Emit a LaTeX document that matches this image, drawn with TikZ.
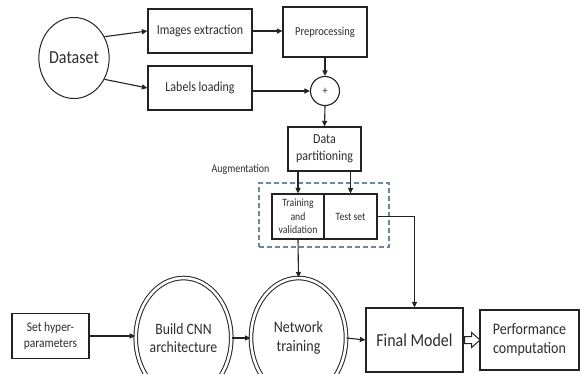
\documentclass[tikz,border=0pt]{standalone}
\usepackage{fontspec}
\setmainfont{Carlito}[FakeStretch=0.87]
\usetikzlibrary{shapes.geometric,arrows.meta}
\definecolor{ln}{RGB}{35,35,35}
\definecolor{tx}{RGB}{45,45,45}
\definecolor{dsh}{RGB}{105,135,165}
\newcommand{\fs}[1]{\fontsize{#1}{1.18\dimexpr#1pt\relax}\selectfont}
\tikzset{
  box/.style={draw=ln, line width=1.2pt, text=tx, align=center, inner sep=1pt},
  oval/.style={ellipse, draw=ln, line width=1pt, text=tx, align=center, inner sep=0pt},
  dbloval/.style={ellipse, draw=ln, double, double distance=2.6pt, line width=1pt, text=tx, align=center, inner sep=0pt},
  conn/.style={draw=ln, line width=1.1pt, -{Triangle[length=5.5pt,width=5pt]}},
  hollow/.style={draw=ln, line width=1pt, fill=white}
}
\begin{document}
\begin{tikzpicture}[x=1pt,y=-1pt]
\useasboundingbox (0,0) rectangle (580,373);
% top part
\node[oval, minimum width=68pt, minimum height=81pt, font=\fontsize{18.4}{21}\selectfont] (ds) at (74,58) {Dataset};
\node[box, minimum width=104pt, minimum height=44pt, font=\fontsize{13.8}{16}\selectfont] (ie) at (200,31) {Images extraction};
\node[box, minimum width=104pt, minimum height=44pt, font=\fontsize{13.8}{16}\selectfont] (ll) at (200,88) {Labels loading};
\node[box, minimum width=84pt, minimum height=50pt, font=\fontsize{12.1}{14}\selectfont] (pp) at (325,32) {Preprocessing};
\node[circle, draw=ln, line width=1.1pt, minimum size=29pt, inner sep=0pt, text=tx, font=\fontsize{11.5}{13}\selectfont] (plus) at (325,91) {+};
\node[box, minimum width=73pt, minimum height=44pt, font=\fontsize{13.8}{16.5}\selectfont] (dp) at (324.5,149) {Data\\partitioning};
% augmentation
\node[draw=dsh, dash pattern=on 5pt off 3pt, line width=1.1pt, minimum width=130pt, minimum height=64pt, inner sep=0pt] (aug) at (324,215) {};
\node[text=tx, font=\fontsize{11.5}{13}\selectfont] (augl) at (240.5,170) {Augmentation};
\node[box, minimum width=52pt, minimum height=45pt, font=\fontsize{11.2}{13.5}\selectfont] (tv) at (298,216.5) {Training\\and\\validation};
\node[box, minimum width=53pt, minimum height=45pt, font=\fontsize{11.2}{13}\selectfont] (ts) at (350.5,216.5) {Test set};
% bottom row
\node[box, minimum width=77pt, minimum height=45pt, font=\fontsize{13.2}{15.5}\selectfont] (hp) at (50.5,336) {Set hyper-\\parameters};
\node[dbloval, minimum width=93pt, minimum height=120pt, font=\fontsize{15.75}{18}\selectfont] (cnn) at (183.5,338) {Build CNN\\architecture};
\node[dbloval, minimum width=95pt, minimum height=120pt, font=\fontsize{16.1}{18.5}\selectfont] (nt) at (298.5,338) {Network\\training};
\node[box, minimum width=97pt, minimum height=64pt, font=\fontsize{18.3}{21}\selectfont] (fm) at (414.5,340) {Final Model};
\node[box, minimum width=99pt, minimum height=60pt, font=\fontsize{16.1}{19}\selectfont] (pc) at (529.5,340) {Performance\\computation};
% hollow block arrow Final Model -> Performance computation
\draw[hollow] (fm.east) ++(1,-3.5) -- ++(7,0) -- ++(0,-4) -- ++(8.5,7.5) -- ++(-8.5,7.5) -- ++(0,-4) -- ++(-7,0) -- cycle;
% connectors
\draw[conn] (ds.35) -- (ie.west);
\draw[conn] (ds.-35) -- (ll.west);
\draw[conn] (ie.east) -- (ie.east -| pp.west);
\draw[conn] (ll.east |- plus) -- (plus.west);
\draw[conn] (pp.south) -- (plus.north);
\draw[conn] (plus.south) -- (dp.north);
\draw[conn] (dp.south -| tv) -- (tv.north);
\draw[conn] (dp.south -| ts) -- (ts.north);
\draw[conn] (tv.south) -- (nt.north);
\draw[conn] (ts.east) -| (fm.north);
\draw[conn] (hp.east) -- (hp.east -| cnn.west);
\draw[conn] (cnn.east) -- (nt.west);
\draw[conn] (nt.east) -- (fm.west);
\end{tikzpicture}
\end{document}
